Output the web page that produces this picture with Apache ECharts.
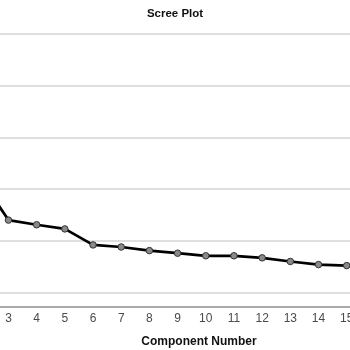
<!DOCTYPE html>
<html><head><meta charset="utf-8">
<script src="https://cdn.jsdelivr.net/npm/echarts@6/dist/echarts.min.js"></script>
<style>html,body{margin:0;padding:0;background:#fff}#c{width:350px;height:350px}</style>
</head><body><div id="c"></div>
<script>
const components = ['1','2','3','4','5','6','7','8','9','10','11','12','13','14','15'];
const eigenvalues = [4.2, 2.21, 1.40, 1.31, 1.23, 0.92, 0.88, 0.81, 0.76, 0.71, 0.71, 0.67, 0.60, 0.54, 0.52];
const yTicks = {min: 0, max: 5, interval: 1};

const chart = echarts.init(document.getElementById('c'), null, {renderer: 'canvas'});
chart.setOption({
  backgroundColor: '#fff',
  animation: false,
  title: [
    {text: 'Scree Plot', left: 170, top: 3, textAlign: 'center',
     textStyle: {fontFamily: 'Liberation Sans, Arial', fontSize: 11.5, fontWeight: 'bold', color: '#111'}},
    {text: 'Component Number', left: 194, top: 331, textAlign: 'center',
     textStyle: {fontFamily: 'Liberation Sans, Arial', fontSize: 12, fontWeight: 'bold', color: '#111'}}
  ],
  grid: {left: -62, right: -10.8, top: 34, bottom: 57.5, containLabel: false, outerBoundsMode: 'none'},
  xAxis: {
    type: 'category', data: components, boundaryGap: true, offset: 14,
    axisLine: {show: true, onZero: false, lineStyle: {color: '#aaaaaa', width: 2}},
    axisTick: {show: false},
    axisLabel: {interval: 0, margin: 6, color: '#4a4a4a', fontSize: 12, fontFamily: 'Liberation Sans, Arial'},
    splitLine: {show: false}
  },
  yAxis: {
    type: 'value', min: yTicks.min, max: yTicks.max, interval: yTicks.interval,
    axisLine: {show: false}, axisTick: {show: false}, axisLabel: {show: false},
    splitLine: {show: true, lineStyle: {color: '#d4d4d4', width: 1.5}}
  },
  series: [{
    type: 'line', data: eigenvalues,
    symbol: 'circle', symbolSize: 6.5,
    lineStyle: {color: '#000', width: 2.7},
    itemStyle: {color: '#8a8a8a', borderColor: '#333', borderWidth: 1}
  }]
});
</script></body></html>
